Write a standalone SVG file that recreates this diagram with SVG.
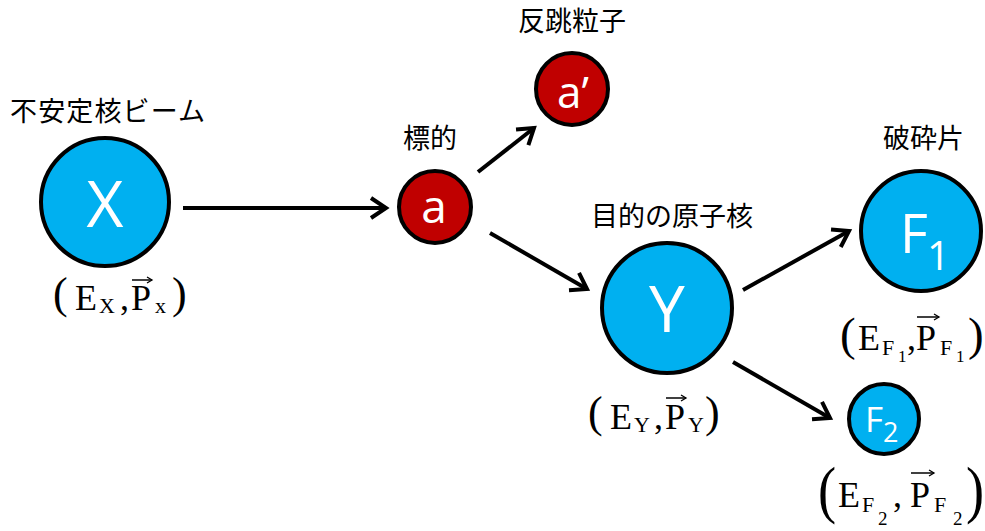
<svg xmlns="http://www.w3.org/2000/svg" width="985" height="531" viewBox="0 0 985 531">
<style>
.blue{fill:#00B0F0;stroke:#000;stroke-width:4}
.red{fill:#C00000;stroke:#000;stroke-width:4}
.in{fill:#fff;font-family:"Open Sans","Liberation Sans",sans-serif}
.lbl{font-family:"Noto Sans CJK JP","Noto Sans CJK SC",sans-serif;font-size:27px;fill:#000}
.m{font-family:"Liberation Serif","DejaVu Serif",serif;fill:#000}
.conn line{stroke:#000;stroke-width:4}
.vec{stroke:#000;stroke-width:1.5}
</style>
<defs>
<marker id="ah" markerUnits="userSpaceOnUse" markerWidth="30" markerHeight="30" viewBox="-20 -15 30 30" refX="0" refY="0" orient="auto">
<path d="M-15,-10 L0,0 L-15,10" fill="none" stroke="#000" stroke-width="4"/>
</marker>
<marker id="va" markerUnits="userSpaceOnUse" markerWidth="10" markerHeight="10" viewBox="-6 -5 10 10" refX="0" refY="0" orient="auto">
<path d="M-5,-3 L0,0 L-5,3" fill="none" stroke="#000" stroke-width="1.3"/>
</marker>
</defs>

<g id="connectors" class="conn">
<line x1="183" y1="208" x2="386" y2="208" marker-end="url(#ah)"/>
<line x1="478" y1="172" x2="534" y2="128" marker-end="url(#ah)"/>
<line x1="490" y1="233" x2="587" y2="289" marker-end="url(#ah)"/>
<line x1="743" y1="290" x2="849" y2="231" marker-end="url(#ah)"/>
<line x1="733" y1="362" x2="830" y2="418" marker-end="url(#ah)"/>
</g>

<g id="node-X">
<text class="lbl" x="10" y="121" textLength="195">不安定核ビーム</text>
<circle class="blue" cx="105" cy="202" r="64"/>
<text class="in" x="105" y="227" font-size="64" text-anchor="middle">X</text>
<g class="m">
<text x="53" y="308" font-size="44">(</text>
<text x="75" y="310" font-size="36">E</text>
<text x="99" y="313" font-size="22">X</text>
<text x="120" y="310" font-size="36">,</text>
<text x="131" y="310" font-size="36">P</text>
<text x="155" y="313" font-size="22">x</text>
<text x="172" y="308" font-size="44">)</text>
</g>
<line class="vec" x1="132" y1="280" x2="152" y2="280" marker-end="url(#va)"/>
</g>

<g id="node-a">
<text class="lbl" x="403" y="148">標的</text>
<circle class="red" cx="435" cy="207" r="36"/>
<text class="in" x="434" y="223" font-size="46" text-anchor="middle">a</text>
</g>

<g id="node-a-prime">
<text class="lbl" x="518" y="31">反跳粒子</text>
<circle class="red" cx="572" cy="89" r="36"/>
<text class="in" x="573" y="108" font-size="44" text-anchor="middle">a’</text>
</g>

<g id="node-Y">
<text class="lbl" x="591" y="226">目的の原子核</text>
<circle class="blue" cx="667" cy="308" r="65"/>
<text class="in" x="667" y="332" font-size="64" text-anchor="middle">Y</text>
<g class="m">
<text x="588" y="427" font-size="44">(</text>
<text x="610" y="429" font-size="36">E</text>
<text x="634" y="432" font-size="22">Y</text>
<text x="654" y="429" font-size="36">,</text>
<text x="665" y="429" font-size="36">P</text>
<text x="688" y="432" font-size="22">Y</text>
<text x="705" y="427" font-size="44">)</text>
</g>
<line class="vec" x1="666" y1="398" x2="686" y2="398" marker-end="url(#va)"/>
</g>

<g id="node-F1">
<text class="lbl" x="883" y="148">破砕片</text>
<circle class="blue" cx="921" cy="231" r="60"/>
<text class="in" x="900" y="253" font-size="54">F</text>
<text class="in" x="927" y="270" font-size="40">1</text>
<g class="m">
<text x="840" y="350" font-size="47">(</text>
<text x="858" y="350" font-size="36">E</text>
<text x="882" y="355" font-size="22">F</text>
<text x="898" y="362" font-size="17">1</text>
<text x="907" y="350" font-size="36">,</text>
<text x="916" y="350" font-size="36">P</text>
<text x="940" y="355" font-size="22">F</text>
<text x="956" y="362" font-size="17">1</text>
<text x="968" y="350" font-size="47">)</text>
</g>
<line class="vec" x1="917" y1="317" x2="939" y2="317" marker-end="url(#va)"/>
</g>

<g id="node-F2">
<circle class="blue" cx="884" cy="419" r="35"/>
<text class="in" x="865" y="432" font-size="35">F</text>
<text class="in" x="883" y="442" font-size="27">2</text>
<g class="m">
<text transform="translate(818,511) scale(0.85,1)" font-size="64">(</text>
<text x="838" y="507" font-size="36">E</text>
<text x="862" y="512" font-size="22">F</text>
<text x="878" y="525" font-size="19">2</text>
<text x="893" y="507" font-size="36">,</text>
<text x="910" y="507" font-size="36">P</text>
<text x="934" y="512" font-size="22">F</text>
<text x="953" y="525" font-size="19">2</text>
<text transform="translate(966,511) scale(0.85,1)" font-size="64">)</text>
</g>
<line class="vec" x1="911" y1="473" x2="934" y2="473" marker-end="url(#va)"/>
</g>
</svg>
